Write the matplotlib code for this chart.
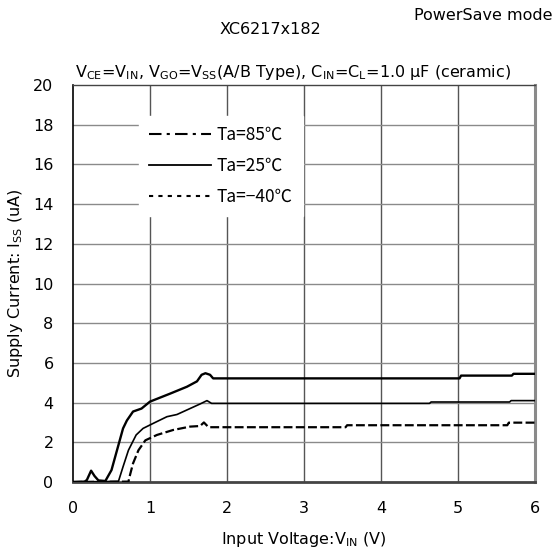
import matplotlib
matplotlib.use("Agg")
import matplotlib.pyplot as plt
from matplotlib.lines import Line2D

plt.rcParams['font.family'] = ['DejaVu Sans']
plt.rcParams['mathtext.default'] = 'regular'

# Ta = 85 C
v85 = [0.0, 0.15, 0.18, 0.235, 0.28, 0.33, 0.42, 0.5, 0.59, 0.65, 0.7, 0.78, 0.89, 1.0,
       1.26, 1.48, 1.61, 1.67, 1.72, 1.78, 1.82, 5.02, 5.04, 5.70, 5.72, 6.0]
i85 = [0.0, 0.02, 0.1, 0.57, 0.3, 0.08, 0.05, 0.6, 1.86, 2.7, 3.1, 3.55, 3.7, 4.05,
       4.45, 4.8, 5.07, 5.4, 5.48, 5.4, 5.22, 5.22, 5.36, 5.36, 5.45, 5.45]
# Ta = 25 C
v25 = [0.0, 0.59, 0.65, 0.72, 0.82, 0.91, 1.04, 1.22, 1.35, 1.48, 1.65, 1.74, 1.8,
       4.63, 4.65, 5.67, 5.69, 6.0]
i25 = [0.0, 0.03, 0.77, 1.6, 2.37, 2.7, 2.95, 3.29, 3.4, 3.63, 3.93, 4.1, 3.96,
       3.96, 4.03, 4.03, 4.1, 4.1]
# Ta = -40 C
vm40 = [0.0, 0.72, 0.74, 0.78, 0.85, 0.94, 1.09, 1.3, 1.52, 1.65, 1.7, 1.76,
        3.54, 3.56, 5.64, 5.66, 6.0]
im40 = [0.0, 0.02, 0.35, 0.94, 1.6, 2.1, 2.37, 2.62, 2.79, 2.82, 3.0, 2.76,
        2.76, 2.86, 2.86, 2.99, 2.99]

legend_labels = ["Ta=85\u2103", "Ta=25\u2103", "Ta=\u221240\u2103"]
xticks = [0, 1, 2, 3, 4, 5, 6]
yticks = [0, 2, 4, 6, 8, 10, 12, 14, 16, 18, 20]

fig = plt.figure(figsize=(5.57, 5.56), dpi=100)
ax = fig.add_axes([73/557, 1-482/556, (535-73)/557, (482-85)/556])
ax.set_xlim(0, 6)
ax.set_ylim(0, 20)
ax.set_xticks(xticks)
ax.set_yticks(yticks)
ax.tick_params(length=0, labelsize=11.5)
ax.tick_params(axis='y', pad=14)
ax.tick_params(axis='x', pad=14)

for x in xticks[1:-1]:
    ax.axvline(x, color='#555555', lw=1.0, zorder=1)
for y in yticks[1:-1]:
    ax.axhline(y, color='#8a8a8a', lw=1.0, zorder=1)

ax.spines['left'].set_color('black')
ax.spines['left'].set_linewidth(1.2)
ax.spines['top'].set_color('#444444')
ax.spines['top'].set_linewidth(1.0)
ax.spines['right'].set_color('#8a8a8a')
ax.spines['right'].set_linewidth(2.2)
ax.spines['bottom'].set_color('#444444')
ax.spines['bottom'].set_linewidth(2.0)

ax.plot(v85, i85, color='black', lw=1.7, zorder=3)
ax.plot(v25, i25, color='black', lw=1.2, zorder=3)
ax.plot(vm40, im40, color='black', lw=1.6, dashes=(4, 1.5), zorder=3)

handles = [Line2D([], [], color='black', lw=1.5, dashes=(6, 2.5, 1.5, 2.5)),
           Line2D([], [], color='black', lw=1.3),
           Line2D([], [], color='black', lw=1.5, dashes=(2, 2.5))]
leg = ax.legend(handles, legend_labels, loc='upper left', bbox_to_anchor=(0.123, 0.945),
                frameon=True, fancybox=False, edgecolor='white', facecolor='white',
                framealpha=1, fontsize=12.5, handlelength=3.6, handletextpad=0.3,
                labelspacing=0.75, borderpad=0.6)
leg.set_zorder(5)
for t in leg.get_texts():
    t.set_family(['Noto Sans CJK JP', 'DejaVu Sans'])

ax.set_xlabel("Input Voltage:V$_{IN}$ (V)", fontsize=11.5, labelpad=10)
ax.set_ylabel("Supply Current: I$_{SS}$ (uA)", fontsize=11.5, labelpad=6)

fig.text(270/557, 1-30/556, "XC6217x182", ha='center', va='center', fontsize=11.5)
fig.text(553/557, 1-15/556, "PowerSave mode", ha='right', va='center', fontsize=11.5)
fig.text(293/557, 1-72/556,
         "V$_{CE}$=V$_{IN}$, V$_{GO}$=V$_{SS}$(A/B Type), C$_{IN}$=C$_{L}$=1.0 \u03bcF (ceramic)",
         ha='center', va='center', fontsize=11.5)

fig.savefig("out.png", dpi=100)
